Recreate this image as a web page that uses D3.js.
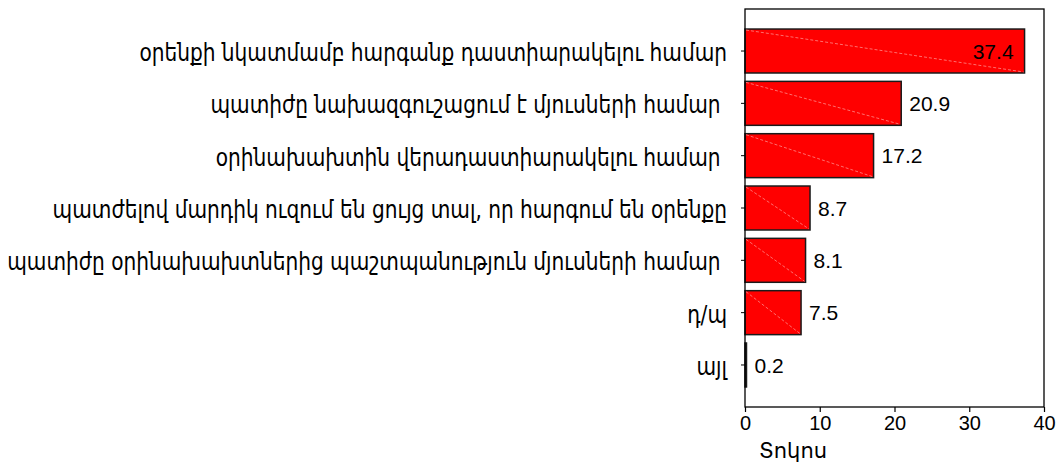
<!DOCTYPE html>
<html><head><meta charset="utf-8">
<script src="https://cdn.jsdelivr.net/npm/d3@7"></script>
<style>
html,body{margin:0;padding:0;background:#fff;}
svg{display:block;}
</style></head>
<body>
<svg id="chart" width="1061" height="465"></svg>
<script>
const categories = [
  "օրենքի նկատմամբ հարգանք դաստիարակելու համար",
  "պատիժը նախազգուշացում է մյուսների համար ",
  "օրինախախտին վերադաստիարակելու համար ",
  "պատժելով մարդիկ ուզում են ցույց տալ, որ հարգում են օրենքը",
  "պատիժը օրինախախտներից պաշտպանություն մյուսների համար ",
  "դ/պ",
  "այլ"
];
const values = [37.4, 20.9, 17.2, 8.7, 8.1, 7.5, 0.2];
const xTicks = [0, 10, 20, 30, 40];
const xTitle = "Տոկոս";

const svg = d3.select("#chart");
const L = 745, R = 1044, T = 9, B = 407;
const x = d3.scaleLinear().domain([0, 40]).range([L, R]);
const y = d3.scaleBand().domain(categories).range([T, B]).paddingInner(0.16).paddingOuter(0.383);

// bars
const g = svg.append("g");
g.selectAll("rect.bar").data(values).join("rect")
  .attr("class","bar")
  .attr("x", x(0))
  .attr("y", (d,i)=>y(categories[i]))
  .attr("width", d => x(d)-x(0))
  .attr("height", y.bandwidth())
  .attr("fill", "#ff0000")
  .attr("stroke", "#1a1a1a")
  .attr("stroke-width", 1.5);
g.selectAll("line.diag").data(values).join("line")
  .attr("class","diag")
  .attr("x1", x(0)+1)
  .attr("y1", (d,i)=>y(categories[i])+1)
  .attr("x2", d => x(d)-1)
  .attr("y2", (d,i)=>y(categories[i])+y.bandwidth()-1)
  .attr("stroke", "#ff9a9a")
  .attr("stroke-width", 0.8)
  .attr("stroke-dasharray", "3,2")
  .attr("opacity", d => d > 1 ? 0.9 : 0);

// frame
svg.append("rect").attr("x", L).attr("y", T).attr("width", R-L).attr("height", B-T)
  .attr("fill","none").attr("stroke","#000").attr("stroke-width",1.3);

// value labels
svg.selectAll("text.val").data(values).join("text")
  .attr("class","val")
  .attr("x", d => x(d) >= R - 40 ? x(d) - 11 : x(d) + 8)
  .attr("y", (d,i)=>y(categories[i]) + y.bandwidth()/2)
  .attr("dy", "0.36em")
  .attr("text-anchor", d => x(d) >= R - 40 ? "end" : "start")
  .attr("font-family", "Liberation Sans, Arial, sans-serif")
  .attr("font-size", 21)
  .attr("fill", "#000")
  .text(d => d.toFixed(1));

// y axis ticks and labels
const yAxis = svg.append("g").attr("transform", `translate(${L},0)`)
  .call(d3.axisLeft(y).tickSize(4).tickPadding(14));
yAxis.select(".domain").remove();
yAxis.selectAll(".tick line").attr("stroke","#000");
yAxis.selectAll(".tick text")
  .attr("font-family", "DejaVu Sans Condensed, DejaVu Sans, sans-serif")
  .attr("font-size", 24)
  .attr("fill","#000")
  .attr("dy","0.42em")
  .style("white-space","pre");
// horizontal fit of label text to reference proportions
const first = yAxis.select(".tick text").node();
const w0 = first.getComputedTextLength();
const k = 588 / w0;
yAxis.selectAll(".tick text").each(function(){
  const t = d3.select(this);
  const xx = +t.attr("x");
  t.attr("transform", `translate(${xx},0) scale(${k},1) translate(${-xx},0)`);
});

// x axis
const xAxis = svg.append("g").attr("transform", `translate(0,${B})`)
  .call(d3.axisBottom(x).tickValues(xTicks).tickSize(5).tickPadding(4).tickFormat(d3.format("d")));
xAxis.select(".domain").remove();
xAxis.selectAll(".tick line").attr("stroke","#000").attr("stroke-width",1.2);
xAxis.selectAll(".tick text")
  .attr("font-family", "Liberation Sans, Arial, sans-serif")
  .attr("font-size", 20).attr("fill","#000");

svg.append("text").attr("x", 759).attr("y", 458)
  .attr("font-family", "DejaVu Sans, sans-serif")
  .attr("font-size", 21).attr("fill","#000")
  .text(xTitle);
</script>
</body></html>
